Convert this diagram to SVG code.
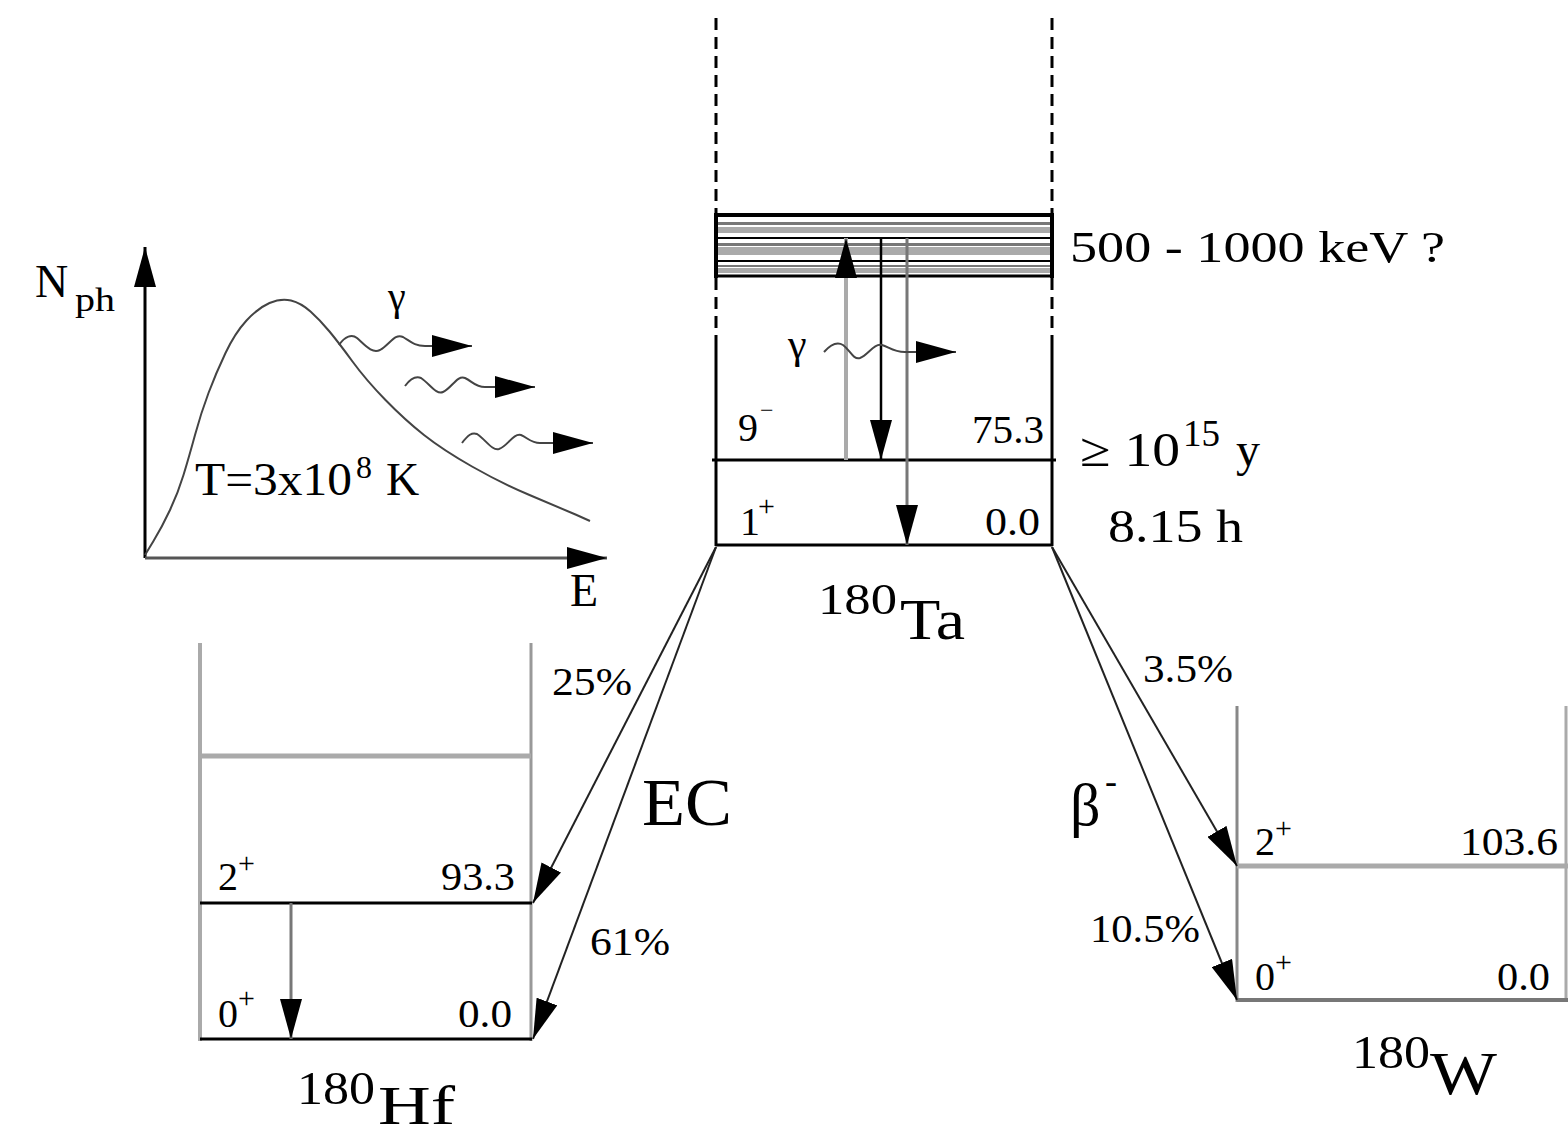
<svg xmlns="http://www.w3.org/2000/svg" width="1568" height="1133" viewBox="0 0 1568 1133">
<style>
.t{font-family:"Liberation Serif","Times New Roman",serif;fill:#000}
.lv{stroke:#000;stroke-width:3;fill:none}
.dash{stroke:#000;stroke-width:3;stroke-dasharray:12 7;fill:none}
.conn{stroke:#222;stroke-width:2;fill:none;marker-end:url(#ah)}
.wave{stroke:#444;stroke-width:2;fill:none;marker-end:url(#ah)}
</style>
<defs>
<marker id="ah" viewBox="0 0 40 22" refX="40" refY="11" markerWidth="40" markerHeight="22" markerUnits="userSpaceOnUse" orient="auto"><path d="M0,0 L40,11 L0,22 Z" fill="#000"/></marker>
</defs>
<rect width="1568" height="1133" fill="#fff"/>

<g id="spectrum-plot">
<line x1="145" y1="558" x2="145" y2="247" stroke="#000" stroke-width="3" marker-end="url(#ah)"/>
<line x1="145" y1="558" x2="607" y2="558" stroke="#555" stroke-width="3" marker-end="url(#ah)"/>
<path d="M145,555 L153.5,541 Q162,527 170,510 Q178,493 183.5,475 Q189,457 195,435 Q201,413 208.5,393 Q216,373 225.5,353 Q235,333 246.5,320.5 Q258,308 269.5,303 Q281,298 291,300.5 Q301,303 310.5,311.5 Q320,320 329.5,331.5 Q339,343 352.5,361.5 Q366,380 385.5,400 Q405,420 424,435 Q443,450 472,466.5 Q501,483 529.5,495 Q558,507 575.5,514.5 L590,521" stroke="#444" stroke-width="2" fill="none"/>
<text class="t" x="35" y="297" font-size="46">N</text>
<text class="t" x="75" y="311" font-size="34" textLength="40" lengthAdjust="spacingAndGlyphs">ph</text>
<text class="t" x="570" y="606" font-size="46">E</text>
<text class="t" x="388" y="310" font-size="40">γ</text>
<text class="t" x="195" y="495" font-size="46" textLength="157" lengthAdjust="spacingAndGlyphs">T=3x10</text>
<text class="t" x="356" y="478" font-size="32">8</text>
<text class="t" x="386" y="495" font-size="46">K</text>
</g>

<g id="ta-180">
<line class="dash" x1="716" y1="18" x2="716" y2="213"/>
<line class="dash" x1="1052" y1="18" x2="1052" y2="213"/>
<line class="dash" x1="716" y1="278" x2="716" y2="337"/>
<line class="dash" x1="1052" y1="278" x2="1052" y2="337"/>
<line class="lv" x1="716" y1="337" x2="716" y2="546"/>
<line class="lv" x1="1052" y1="337" x2="1052" y2="546"/>
<rect x="716" y="215" width="336" height="61" fill="#fff"/>
<line x1="716" y1="223.5" x2="1052" y2="223.5" stroke="#777" stroke-width="3"/>
<rect x="716" y="227" width="336" height="6" fill="#aaa"/>
<line x1="716" y1="244.5" x2="1052" y2="244.5" stroke="#777" stroke-width="3"/>
<rect x="716" y="247" width="336" height="8" fill="#aaa"/>
<line x1="716" y1="266" x2="1052" y2="266" stroke="#777" stroke-width="2"/>
<rect x="716" y="268" width="336" height="5" fill="#aaa"/>
<line x1="714" y1="215" x2="1054" y2="215" stroke="#000" stroke-width="4"/>
<line x1="716" y1="238" x2="1052" y2="238" stroke="#000" stroke-width="2"/>
<line x1="716" y1="261" x2="1052" y2="261" stroke="#000" stroke-width="2"/>
<line x1="714" y1="276" x2="1054" y2="276" stroke="#000" stroke-width="3"/>
<line x1="716" y1="213" x2="716" y2="278" stroke="#000" stroke-width="4"/>
<line x1="1052" y1="213" x2="1052" y2="278" stroke="#000" stroke-width="4"/>
<line class="lv" x1="712" y1="460" x2="1056" y2="460"/>
<line class="lv" x1="716" y1="545" x2="1052" y2="545"/>
<text class="t" x="1070" y="262" font-size="44" textLength="375" lengthAdjust="spacingAndGlyphs">500 - 1000 keV ?</text>
<text class="t" x="1080" y="466" font-size="48" textLength="100" lengthAdjust="spacingAndGlyphs">≥ 10</text>
<text class="t" x="1183" y="446" font-size="38" textLength="37" lengthAdjust="spacingAndGlyphs">15</text>
<text class="t" x="1236" y="466" font-size="48">y</text>
<text class="t" x="1108" y="542" font-size="46" textLength="135" lengthAdjust="spacingAndGlyphs">8.15 h</text>
<text class="t" x="738" y="441" font-size="40">9</text>
<text class="t" x="760" y="418" font-size="24">−</text>
<text class="t" x="972" y="443" font-size="40" textLength="72" lengthAdjust="spacingAndGlyphs">75.3</text>
<text class="t" x="740" y="535" font-size="40">1</text>
<text class="t" x="758" y="516" font-size="30">+</text>
<text class="t" x="985" y="535" font-size="40" textLength="55" lengthAdjust="spacingAndGlyphs">0.0</text>
<text class="t" x="788" y="358" font-size="42">γ</text>
<text class="t" x="818" y="614" font-size="44" textLength="79" lengthAdjust="spacingAndGlyphs">180</text>
<text class="t" x="900" y="639" font-size="58" textLength="65" lengthAdjust="spacingAndGlyphs">Ta</text>
</g>

<g id="hf-180">
<line x1="200" y1="643" x2="200" y2="1041" stroke="#aaa" stroke-width="4"/>
<line x1="531" y1="643" x2="531" y2="1041" stroke="#999" stroke-width="3"/>
<line x1="200" y1="756" x2="531" y2="756" stroke="#aaa" stroke-width="5"/>
<line class="lv" x1="200" y1="903" x2="532" y2="903"/>
<line class="lv" x1="200" y1="1039" x2="532" y2="1039"/>
<text class="t" x="218" y="890" font-size="40">2</text>
<text class="t" x="238" y="873" font-size="30">+</text>
<text class="t" x="441" y="890" font-size="40" textLength="74" lengthAdjust="spacingAndGlyphs">93.3</text>
<text class="t" x="218" y="1027" font-size="40">0</text>
<text class="t" x="238" y="1008" font-size="30">+</text>
<text class="t" x="458" y="1027" font-size="40" textLength="54" lengthAdjust="spacingAndGlyphs">0.0</text>
<text class="t" x="297" y="1104" font-size="46" textLength="78" lengthAdjust="spacingAndGlyphs">180</text>
<text class="t" x="378" y="1124" font-size="54" textLength="77" lengthAdjust="spacingAndGlyphs">Hf</text>
</g>

<g id="w-180">
<line x1="1237" y1="706" x2="1237" y2="1002" stroke="#888" stroke-width="3"/>
<line x1="1566" y1="706" x2="1566" y2="1002" stroke="#aaa" stroke-width="3"/>
<line x1="1237" y1="866" x2="1568" y2="866" stroke="#aaa" stroke-width="5"/>
<line x1="1237" y1="1000" x2="1568" y2="1000" stroke="#777" stroke-width="4"/>
<text class="t" x="1255" y="855" font-size="40">2</text>
<text class="t" x="1275" y="838" font-size="30">+</text>
<text class="t" x="1460" y="855" font-size="40" textLength="98" lengthAdjust="spacingAndGlyphs">103.6</text>
<text class="t" x="1255" y="990" font-size="40">0</text>
<text class="t" x="1275" y="972" font-size="30">+</text>
<text class="t" x="1497" y="990" font-size="40" textLength="53" lengthAdjust="spacingAndGlyphs">0.0</text>
<text class="t" x="1352" y="1068" font-size="46" textLength="78" lengthAdjust="spacingAndGlyphs">180</text>
<text class="t" x="1430" y="1094" font-size="62" textLength="67" lengthAdjust="spacingAndGlyphs">W</text>
</g>

<g id="connectors">
<line x1="846" y1="460" x2="846" y2="238" stroke="#aaa" stroke-width="4" marker-end="url(#ah)"/>
<line x1="881" y1="238" x2="881" y2="460" stroke="#000" stroke-width="2.5" marker-end="url(#ah)"/>
<line x1="907" y1="238" x2="907" y2="545" stroke="#777" stroke-width="3" marker-end="url(#ah)"/>
<path class="wave" d="M824,352 C832,343 838,342 843,345 C850,350 853,360 860,358 C868,355 874,343 882,345 C889,347 893,352 905,352 L956,352"/>
<path class="wave" d="M339,345 C345,336 352,334 357,338 C365,345 372,354 380,350 C390,344 395,333 403,337 C410,341 414,346 425,346 L472,346"/>
<path class="wave" d="M405,386 C411,378 416,376 421,378 C430,384 436,395 443,392 C452,388 457,375 465,378 C472,381 475,387 485,387 L535,387"/>
<path class="wave" d="M462,443 C468,435 472,432 477,434 C486,440 492,451 499,449 C508,446 513,433 521,435 C528,438 531,443 540,443 L593,443"/>
<line x1="291" y1="903" x2="291" y2="1039" stroke="#777" stroke-width="3" marker-end="url(#ah)"/>
<line class="conn" x1="716" y1="547" x2="533" y2="903"/>
<line class="conn" x1="716" y1="547" x2="533" y2="1039"/>
<line class="conn" x1="1052" y1="547" x2="1237" y2="866"/>
<line class="conn" x1="1052" y1="547" x2="1237" y2="1000"/>
<text class="t" x="552" y="695" font-size="40" textLength="80" lengthAdjust="spacingAndGlyphs">25%</text>
<text class="t" x="642" y="825" font-size="68" textLength="90" lengthAdjust="spacingAndGlyphs">EC</text>
<text class="t" x="590" y="955" font-size="40" textLength="80" lengthAdjust="spacingAndGlyphs">61%</text>
<text class="t" x="1143" y="682" font-size="40" textLength="90" lengthAdjust="spacingAndGlyphs">3.5%</text>
<text class="t" x="1070" y="825" font-size="60">β</text>
<text class="t" x="1105" y="793" font-size="36">-</text>
<text class="t" x="1090" y="942" font-size="40" textLength="110" lengthAdjust="spacingAndGlyphs">10.5%</text>
</g>
</svg>
